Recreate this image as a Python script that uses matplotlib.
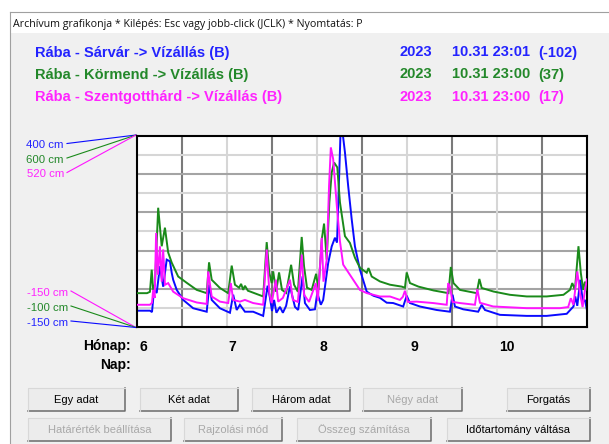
import matplotlib
matplotlib.use("Agg")
import matplotlib.pyplot as plt
import matplotlib.transforms as mtransforms
from matplotlib.patches import Rectangle

plt.rcParams['font.family'] = ['Liberation Sans', 'DejaVu Sans']

# ---------------- data ----------------
title_text = "Archívum grafikonja * Kilépés: Esc vagy jobb-click (JCLK) * Nyomtatás: P"
series_names = ["Rába - Sárvár -> Vízállás (B)",
                "Rába - Körmend -> Vízállás (B)",
                "Rába - Szentgotthárd -> Vízállás (B)"]
last_year = "2023"
last_stamps = ["10.31 23:01", "10.31 23:00", "10.31 23:00"]
last_values = [-102, 37, 17]
y_low = [-150, -100, -150]
y_high = [400, 600, 520]
month_starts = [0, 30, 61, 92, 122]
month_labels = ["6", "7", "8", "9", "10"]
day_span = 153  # Jun 1 .. Oct 31

blue_days = [0, 4.4, 5.1, 5.8, 6.7, 7.8, 8.9, 10.1, 11.2, 11.8, 12.3, 13.5, 15.7, 19.1, 23.7,
             24.6, 25.4, 28.2, 31.6, 32.7, 33.9, 35.0, 36.7, 39.5, 42.9, 44.4, 45.2, 45.9, 46.6,
             47.4, 48.6, 49.6, 50.7, 52.0, 53.7, 54.8, 56.3, 57.1, 58.8, 60.5, 61.3, 62.5, 63.3,
             65.0, 66.2, 67.3, 68.0, 68.7, 69.2, 69.9, 70.7, 71.8, 73.0, 74.1, 75.8, 78.1, 79.2,
             80.4, 82.6, 84.9, 87.1, 90.5, 91.7, 92.8, 96.2, 101.9, 106.4, 107.3, 108.1, 110.9,
             116.0, 117.2, 118.3, 123.4, 132.5, 139.3, 146.1, 148.4, 149.0, 149.7, 150.7, 151.6,
             152.3, 153.0]
blue_cm = [-103, -103, -107, -43, -52, 25, -34, 44, 39, 6, -14, -43, -72, -96, -106,
           -28, -72, -96, -109, -57, -101, -86, -106, -106, -118, -31, -66, -104, -72,
           -109, -92, -109, -89, -33, -92, -101, -4, -81, -101, -99, -52, -86, -72,
           34, 82, 107, 93, 276, 410, 410, 353, 256, 160, 82, 15, -48, -54,
           -60, -66, -80, -81, -91, -60, -81, -91, -101, -106, -57, -91, -99,
           -106, -86, -101, -115, -118, -118, -112, -91, -62, -89, -14, -78,
           -72, -102]

green_days = [0, 3.4, 4.4, 5.0, 5.5, 6.1, 7.2, 8.4, 9.5, 10.6, 11.8, 14.0, 16.9, 20.3, 23.7,
              24.5, 25.4, 28.2, 31.0, 32.2, 33.3, 34.7, 35.4, 36.1, 36.7, 37.7, 42.9, 44.1,
              45.0, 45.8, 46.3, 47.3, 48.3, 49.3, 50.7, 52.4, 53.4, 54.7, 56.0, 56.8, 57.8,
              59.4, 60.9, 61.7, 62.8, 63.6, 64.5, 65.4, 66.2, 67.0, 68.1, 69.0, 70.7, 72.4,
              74.1, 75.8, 78.1, 78.7, 79.8, 82.6, 86.0, 90.0, 91.1, 91.7, 92.8, 95.7, 100.8,
              105.9, 106.7, 107.6, 109.8, 115.5, 116.4, 117.2, 121.2, 126.8, 132.5, 139.3,
              145.0, 147.2, 148.0, 148.9, 150.1, 150.9, 151.7, 152.3, 153.0]
green_cm = [24, 24, 29, 110, 36, 55, 337, 196, 264, 173, 136, 85, 62, 36, 24,
            137, 73, 43, 24, 125, 55, 44, 58, 36, 51, 33, 12, 211,
            98, 61, 104, 29, 100, 36, 25, 128, 55, 29, 230, 122, 44,
            36, 95, 36, 220, 279, 147, 356, 466, 503, 485, 357, 233, 208,
            154, 117, 99, 116, 85, 67, 55, 48, 44, 100, 61, 48, 34,
            24, 120, 61, 36, 24, 76, 43, 30, 18, 12, 12,
            18, 36, 61, 36, 196, 98, 36, 66, 37]

magenta_days = [0, 4.4, 5.1, 5.5, 6.0, 6.5, 7.1, 7.8, 8.4, 8.9, 9.5, 10.6, 12.3, 15.7, 20.3,
                23.7, 24.2, 25.4, 28.2, 31.0, 31.9, 32.7, 35.0, 36.7, 39.5, 42.9, 44.1, 45.0,
                45.8, 47.2, 48.0, 49.6, 50.7, 52.0, 53.0, 54.7, 56.0, 56.8, 58.5, 60.8, 61.5,
                62.8, 63.4, 64.5, 65.3, 65.9, 66.7, 67.9, 69.0, 70.1, 72.4, 75.8, 78.1, 82.6,
                86.0, 89.4, 90.4, 91.1, 92.1, 95.1, 100.7, 105.3, 105.8, 106.4, 107.3, 109.8,
                114.9, 115.7, 116.6, 121.1, 132.5, 143.8, 146.6, 147.5, 148.4, 149.7, 150.6,
                151.5, 152.3, 153.0]
magenta_cm = [-72, -72, -65, -20, -48, 180, 33, 133, 9, 122, -2, 4, -26, -49, -64,
              -69, 45, -43, -61, -66, 4, -55, -61, -55, -66, -72, 122, -31,
              -66, 16, -61, -48, -20, 16, -55, -62, 104, -37, -62, 4, -58,
              163, 9, 86, 345, 480, 439, 280, 151, 69, 33, -20, -31, -43,
              -43, -55, -44, -23, -62, -61, -66, -72, 4, -9, -62, -66,
              -72, -17, -65, -78, -84, -84, -80, -49, -72, 45, -30,
              -80, -20, 17]

series_days = [blue_days, green_days, magenta_days]
series_vals = [blue_cm, green_cm, magenta_cm]
text_colors = ['#2323ff', '#23882a', '#ff23ff']
line_colors = ['#0a0aff', '#1a8a1a', '#ff14ff']

buttons_row1 = ["Egy adat", "Két adat", "Három adat", "Négy adat", "Forgatás"]
buttons_row2 = ["Határérték beállítása", "Rajzolási mód", "Összeg számítása", "Időtartomány váltása"]
enabled_row1 = [True, True, True, False, True]
enabled_row2 = [False, False, False, True]

# ---------------- layout (pixels) ----------------
W, H = 609, 444
L, R, T, B = 137, 587, 136, 327

fig = plt.figure(figsize=(W / 100, H / 100), dpi=100, facecolor='white')
bg = fig.add_axes([0, 0, 1, 1])
bg.set_xlim(0, W)
bg.set_ylim(H, 0)
bg.axis('off')

# window
bg.add_patch(Rectangle((10, 12.5), W - 10, H - 12.5, facecolor='#f0f0f0', edgecolor='none', zorder=0))
bg.add_patch(Rectangle((10.5, 13), W - 10.5, 20.5, facecolor='white', edgecolor='none', zorder=0))
bg.plot([10, W], [12.5, 12.5], color='#a0a0a0', lw=0.8)
bg.plot([10, 10], [12.5, H], color='#a0a0a0', lw=0.8)
bg.text(13, 27, title_text, fontsize=7.7, family=['Open Sans', 'DejaVu Sans'],
        va='baseline', ha='left', color='#111111')

# header rows
header_base = [56.5, 78.5, 100.5]
for i in range(3):
    yb = header_base[i]
    kw = dict(fontsize=10.5, fontweight='bold', color=text_colors[i], va='baseline', ha='left')
    bg.text(35, yb, series_names[i], **kw)
    bg.text(400, yb, last_year, **kw)
    bg.text(452, yb, last_stamps[i], **kw)
    bg.text(538, yb, f"({last_values[i]})", **kw)

# scale labels with connector lines
top_base = [148.3, 162.7, 176.7]
top_line_y = [143.5, 158, 172.5]
for i in range(3):
    bg.text(64, top_base[i], f"{y_high[i]} cm", color=text_colors[i], fontsize=8.2,
            ha='right', va='baseline')
    bg.plot([67, L - 1], [top_line_y[i], T - 1], color=line_colors[i], lw=0.8)
bot_order = [2, 1, 0]
bot_base = [296, 311, 325.7]
bot_line_y = [291, 306, 321]
for row, i in enumerate(bot_order):
    bg.text(68, bot_base[row], f"{y_low[i]} cm", color=text_colors[i], fontsize=8.2,
            ha='right', va='baseline')
    bg.plot([71, L - 1], [bot_line_y[row], B + 0.5], color=line_colors[i], lw=0.8)

bg.text(131, 350, "Hónap:", fontsize=10, fontweight='bold', ha='right', va='baseline')
bg.text(131, 369, "Nap:", fontsize=10, fontweight='bold', ha='right', va='baseline')

# buttons
def draw_button(x0, x1, y0, y1, label, enabled):
    bg.add_patch(Rectangle((x0, y0), x1 - x0, y1 - y0, facecolor='#ececec',
                           edgecolor='none', zorder=1))
    bg.plot([x0, x1, x1], [y1, y1, y0], color='#6a6a6a', lw=1.1, zorder=2)
    bg.plot([x0, x0, x1], [y1, y0, y0], color='#d8d8d8', lw=0.8, zorder=2)
    bg.text((x0 + x1) / 2, (y0 + y1) / 2 + 0.5, label, fontsize=8,
            color='black' if enabled else '#a8a8a8', ha='center', va='center', zorder=3)

row1_x = [(28, 125), (140, 238), (252, 350), (363, 462), (507, 590)]
row2_x = [(28, 171), (184, 282), (297, 431), (447, 590)]
for (x0, x1), lab, en in zip(row1_x, buttons_row1, enabled_row1):
    draw_button(x0, x1, 388, 411, lab, en)
for (x0, x1), lab, en in zip(row2_x, buttons_row2, enabled_row2):
    draw_button(x0, x1, 418, 441, lab, en)

# ---------------- chart ----------------
ax = fig.add_axes([L / W, 1 - B / H, (R - L) / W, (B - T) / H])
ax.set_facecolor('white')
ax.set_xlim(0, day_span)
ax.set_ylim(y_low[0], y_high[0])
for k in range(1, 10):
    ax.plot([k / 10, k / 10], [0, 1], transform=ax.transAxes,
            color='#7a7a7a' if k % 2 == 1 else '#d6d6d6', lw=1.5, zorder=0.5)
    ax.plot([0, 1], [k / 10, k / 10], transform=ax.transAxes,
            color='#a4a4a4' if k % 2 == 0 else '#d6d6d6', lw=1.5, zorder=0.5)
for s in ax.spines.values():
    s.set_color('black')
    s.set_linewidth(1.5)
ax.set_yticks([])
ax.set_xticks(month_starts, month_labels)
ax.tick_params(axis='x', length=0, pad=9.3, labelsize=10)
offset = mtransforms.ScaledTranslation(3 / 100, 0, fig.dpi_scale_trans)
for lab in ax.get_xticklabels():
    lab.set_horizontalalignment('left')
    lab.set_fontweight('bold')
    lab.set_transform(lab.get_transform() + offset)

axes = [ax, ax.twinx(), ax.twinx()]
for i, a in enumerate(axes):
    if i > 0:
        a.set_ylim(y_low[i], y_high[i])
        a.set_yticks([])
        for s in a.spines.values():
            s.set_visible(False)
    a.plot(series_days[i], series_vals[i], color=line_colors[i], lw=1.4,
           solid_joinstyle='miter')

fig.savefig("out.png", dpi=100, facecolor='white')
